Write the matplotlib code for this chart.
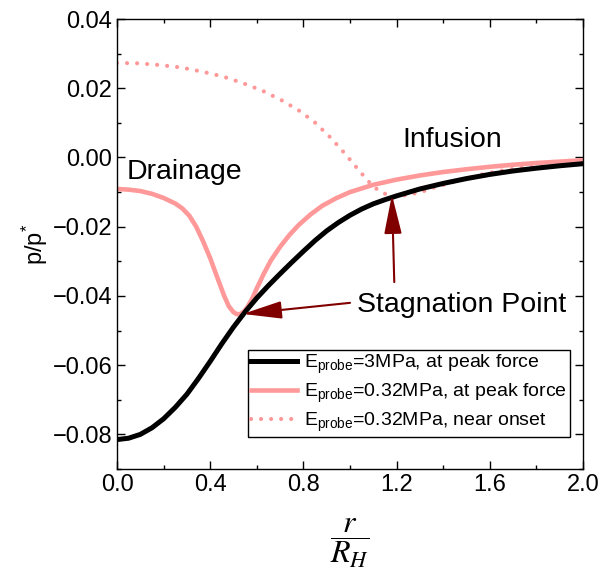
import matplotlib
matplotlib.use("Agg")
import matplotlib.pyplot as plt
from matplotlib.ticker import MultipleLocator, FuncFormatter

plt.rcParams['font.family'] = ['Liberation Sans', 'DejaVu Sans']
plt.rcParams['mathtext.fontset'] = 'custom'
plt.rcParams['mathtext.rm'] = 'Liberation Sans'
plt.rcParams['mathtext.it'] = 'Liberation Sans:italic'

# Data (r/R_H, p/p*)
r_black = [0.00, 0.05, 0.10, 0.15, 0.20, 0.25, 0.30, 0.35, 0.40, 0.45, 0.50, 0.55,
           0.60, 0.65, 0.70, 0.75, 0.80, 0.85, 0.90, 0.95, 1.00, 1.05, 1.10, 1.15,
           1.20, 1.30, 1.40, 1.50, 1.60, 1.70, 1.80, 1.90, 2.00]
p_black = [-0.0815, -0.0811, -0.0800, -0.0781, -0.0755, -0.0722, -0.0684, -0.0638,
           -0.0589, -0.0538, -0.0490, -0.0446, -0.0406, -0.0370, -0.0336, -0.0303,
           -0.0271, -0.0240, -0.0212, -0.0188, -0.0167, -0.0149, -0.0134, -0.0122,
           -0.0111, -0.0091, -0.0075, -0.0061, -0.0049, -0.0039, -0.0031, -0.0024,
           -0.0018]

r_pink = [0.00, 0.05, 0.10, 0.15, 0.20, 0.25, 0.28, 0.31, 0.34, 0.37, 0.40, 0.43, 0.46,
          0.48, 0.50, 0.515, 0.53, 0.545, 0.56, 0.58, 0.60, 0.63, 0.66, 0.70, 0.74,
          0.78, 0.83, 0.88, 0.94, 1.00, 1.10, 1.20, 1.30, 1.40, 1.50, 1.60, 1.70, 1.80,
          1.90, 2.00]
p_pink = [-0.0091, -0.0093, -0.0097, -0.0105, -0.0117, -0.0133, -0.0147, -0.0168,
          -0.0200, -0.0243, -0.0291, -0.0346, -0.0400, -0.0430, -0.0447, -0.0453,
          -0.0452, -0.0445, -0.0432, -0.0408, -0.0378, -0.0336, -0.0298, -0.0258,
          -0.0224, -0.0195, -0.0165, -0.0140, -0.0118, -0.0100, -0.0079, -0.0064,
          -0.0052, -0.0042, -0.0034, -0.0027, -0.0021, -0.0016, -0.0012, -0.0008]

r_dot = [0.0, 0.093, 0.183, 0.275, 0.365, 0.454, 0.539, 0.624, 0.707, 0.78, 0.848,
         0.917, 0.981, 1.039, 1.099, 1.142, 1.187, 1.23, 1.30, 1.36, 1.47, 1.56, 1.64,
         1.72, 1.8, 1.9, 2.0]
p_dot = [0.0273, 0.0272, 0.0267, 0.0260, 0.0248, 0.0234, 0.0215, 0.0193, 0.0165,
         0.0136, 0.0102, 0.0057, 0.0009, -0.0038, -0.0084, -0.0103, -0.0113, -0.0110,
         -0.0101, -0.0087, -0.0066, -0.0050, -0.0039, -0.0031, -0.0026, -0.0021,
         -0.0017]

labels = [r'E$_{\mathregular{probe}}$=3MPa, at peak force',
          r'E$_{\mathregular{probe}}$=0.32MPa, at peak force',
          r'E$_{\mathregular{probe}}$=0.32MPa, near onset']

pink = '#ff9999'
dark = '#800000'

fig = plt.figure(figsize=(6.02, 5.75), dpi=100)
ax = fig.add_axes([117/602, 1-469/575, 466/602, 450/575])

ax.plot(r_black, p_black, color='black', lw=3.6, label=labels[0], zorder=3,
        solid_joinstyle='round')
ax.plot(r_pink, p_pink, color=pink, lw=3.3, label=labels[1], zorder=2,
        solid_joinstyle='round')
ax.plot(r_dot, p_dot, color=pink, lw=3.0, linestyle=(0, (0.01, 2.4)),
        dash_capstyle='round', label=labels[2], zorder=2)

ax.set_xlim(0, 2.0)
ax.set_ylim(-0.09, 0.04)
ax.xaxis.set_major_locator(MultipleLocator(0.4))
ax.xaxis.set_minor_locator(MultipleLocator(0.2))
ax.yaxis.set_major_locator(MultipleLocator(0.02))
ax.yaxis.set_minor_locator(MultipleLocator(0.01))
ax.xaxis.set_major_formatter(FuncFormatter(lambda v, p: f'{v:.1f}'.replace('-', '\u2212')))
ax.yaxis.set_major_formatter(FuncFormatter(
    lambda v, p: ('0.00' if abs(v) < 1e-9 else f'{v:.2f}').replace('-', '\u2212')))
ax.tick_params(which='both', direction='in', top=True, right=True, labelsize=17, width=1)
ax.tick_params(which='major', length=6)
ax.tick_params(which='minor', length=3)
for s in ax.spines.values():
    s.set_linewidth(1.0)

ax.set_ylabel(r'p/p$^{*}$', fontsize=17, labelpad=2)
ax.set_xlabel(r'$\dfrac{r}{R_H}$', fontsize=23, math_fontfamily='stix', labelpad=15)

ax.text(0.043, -0.0061, 'Drainage', fontsize=20.5, va='baseline', ha='left')
ax.text(1.223, 0.0029, 'Infusion', fontsize=20.5, va='baseline', ha='left')
ax.text(1.03, -0.0446, 'Stagnation Point', fontsize=20.5, va='baseline', ha='left')

astyle = '-|>,head_length=0.8,head_width=0.18'
ax.annotate('', xy=(0.54, -0.0452), xytext=(1.0, -0.042),
            arrowprops=dict(arrowstyle=astyle, color=dark, lw=1.5, mutation_scale=30,
                            shrinkA=0, shrinkB=0), zorder=5)
ax.annotate('', xy=(1.18, -0.0108), xytext=(1.19, -0.0360),
            arrowprops=dict(arrowstyle=astyle, color=dark, lw=1.5, mutation_scale=30,
                            shrinkA=0, shrinkB=0), zorder=5)

leg = ax.legend(loc='lower right', bbox_to_anchor=(0.972, 0.071), borderaxespad=0,
                fontsize=14, frameon=True, fancybox=False, edgecolor='black',
                framealpha=1, handlelength=2.37, handletextpad=0.35, borderpad=0.15,
                labelspacing=0.3)
leg.get_frame().set_linewidth(1.0)

fig.savefig('out.png', dpi=100)
